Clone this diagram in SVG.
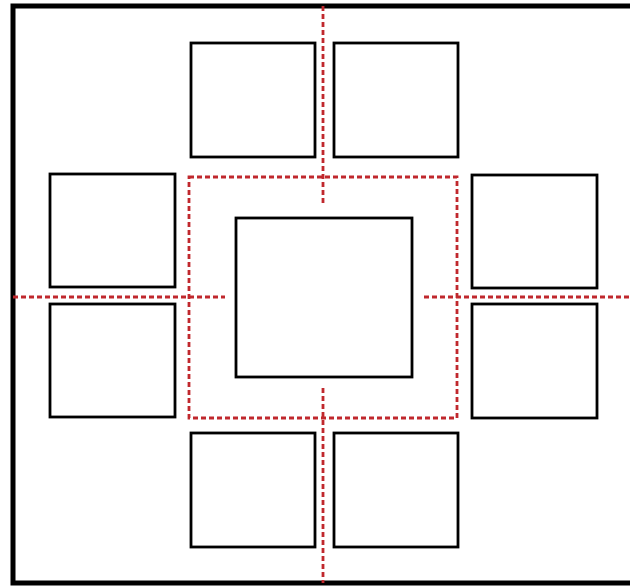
<svg xmlns="http://www.w3.org/2000/svg" width="630" height="587" viewBox="0 0 630 587">
<style>
.box{fill:#fff;stroke:#000;stroke-width:2.8}
.dash{fill:none;stroke:#c0282d;stroke-width:2.8;stroke-dasharray:5 3}
</style>
<rect x="0" y="0" width="630" height="587" fill="#fff"/>
<g id="frame"><rect x="13" y="6" width="630" height="577" fill="#fff" stroke="#000" stroke-width="5"/></g>
<g id="connectors">
<rect class="dash" x="189" y="177" width="268" height="241"/>
<line class="dash" x1="323" y1="6" x2="323" y2="205"/>
<line class="dash" x1="323" y1="388" x2="323" y2="583"/>
<line class="dash" x1="13" y1="297" x2="225" y2="297"/>
<line class="dash" x1="424" y1="297" x2="630" y2="297"/>
</g>
<g id="top-left"><rect class="box" x="191" y="43" width="124" height="114"/></g>
<g id="top-right"><rect class="box" x="334" y="43" width="124" height="114"/></g>
<g id="left-top"><rect class="box" x="50" y="174" width="125" height="113"/></g>
<g id="left-bottom"><rect class="box" x="50" y="304" width="125" height="113"/></g>
<g id="right-top"><rect class="box" x="472" y="175" width="125" height="113"/></g>
<g id="right-bottom"><rect class="box" x="472" y="304" width="125" height="114"/></g>
<g id="bottom-left"><rect class="box" x="191" y="433" width="124" height="114"/></g>
<g id="bottom-right"><rect class="box" x="334" y="433" width="124" height="114"/></g>
<g id="center"><rect class="box" x="236" y="218" width="176" height="159" stroke-width="3.8"/></g>
</svg>
